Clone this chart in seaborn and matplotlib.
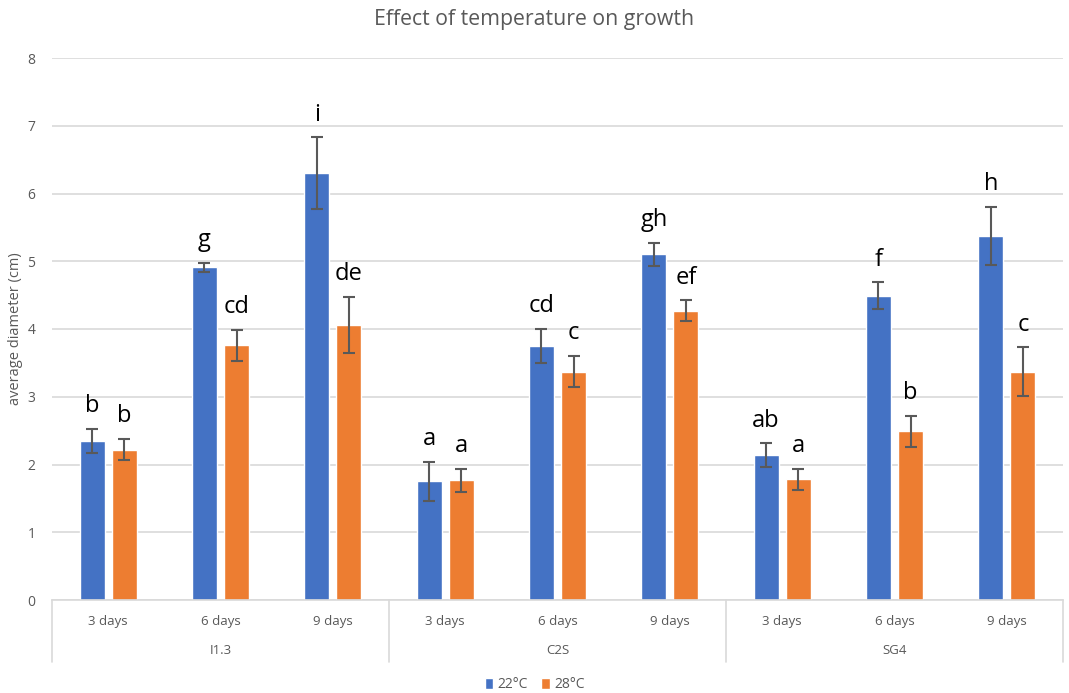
import matplotlib
matplotlib.use("Agg")
import matplotlib.pyplot as plt
from matplotlib.patches import Patch
from matplotlib.lines import Line2D
import matplotlib.transforms as mtransforms
import seaborn as sns
import pandas as pd

# ---- data ----
strains = ["I1.3", "C2S", "SG4"]
days = ["3 days", "6 days", "9 days"]
temps = ["22°C", "28°C"]

mean_22 = [2.35, 4.91, 6.30, 1.75, 3.75, 5.10, 2.14, 4.49, 5.37]
err_22 = [0.18, 0.07, 0.53, 0.29, 0.25, 0.17, 0.17, 0.20, 0.43]
letters_22 = ["b", "g", "i", "a", "cd", "gh", "ab", "f", "h"]

mean_28 = [2.22, 3.76, 4.06, 1.77, 3.37, 4.27, 1.78, 2.49, 3.37]
err_28 = [0.16, 0.23, 0.41, 0.17, 0.23, 0.155, 0.16, 0.23, 0.36]
letters_28 = ["b", "cd", "de", "a", "c", "ef", "a", "b", "c"]

colors = ["#4472C4", "#ED7D31"]
text_gray = "#595959"
grid_gray = "#D9D9D9"

# ---- long-form table ----
cats = [f"{s}|{d}" for s in strains for d in days]
rows = []
for t, means in zip(temps, [mean_22, mean_28]):
    for c, m in zip(cats, means):
        rows.append({"cat": c, "temp": t, "mean": m})
df = pd.DataFrame(rows)

sns.set_theme(style="white")
plt.rcParams["font.family"] = ["Open Sans", "DejaVu Sans"]

fig = plt.figure(figsize=(10.69, 6.93), dpi=100)
ax = fig.add_axes([52 / 1069, 1 - 600 / 693, (1063 - 52) / 1069, (600 - 58) / 693])

sns.barplot(data=df, x="cat", y="mean", hue="temp", order=cats, hue_order=temps,
            palette=colors, width=0.57, gap=0.22, errorbar=None, legend=False,
            saturation=1, ax=ax)

# error bars and significance letters on each bar
bars = [p for p in ax.patches if p.get_height() > 0]
bars.sort(key=lambda p: p.get_x())
for i, c in enumerate(cats):
    pair = bars[2 * i:2 * i + 2]
    for p, m, e, lab in zip(pair, [mean_22[i], mean_28[i]], [err_22[i], err_28[i]],
                            [letters_22[i], letters_28[i]]):
        xc = p.get_x() + p.get_width() / 2
        ax.errorbar(xc, m, yerr=e, fmt="none", ecolor="#595959", elinewidth=1.5,
                    capsize=4, capthick=1.5, zorder=5)
        ax.annotate(lab, (xc, m + e), xytext=(0, 12), textcoords="offset points",
                    ha="center", va="baseline", fontsize=17, color="black")

ax.set_ylim(0, 8)
ax.set_xlim(-0.5, len(cats) - 0.5)
ax.set_yticks(range(0, 9))
ax.tick_params(axis="y", length=0, pad=12, labelsize=10, labelcolor=text_gray)
ax.yaxis.grid(True, color=grid_gray, linewidth=1.2)
ax.set_axisbelow(True)
for s in ["top", "right", "left"]:
    ax.spines[s].set_visible(False)
ax.spines["bottom"].set_color(grid_gray)
ax.spines["bottom"].set_linewidth(1.2)

ax.set_xticks(range(len(cats)))
ax.set_xticklabels([c.split("|")[1] for c in cats])
ax.tick_params(axis="x", length=0, pad=11, labelsize=9.5, labelcolor=text_gray)
ax.set_xlabel("")
ax.set_ylabel("average diameter (cm)", fontsize=10.5, color=text_gray)
ax.yaxis.set_label_coords(-0.029, 0.5)

# strain group labels and separators beneath the day labels
trans = mtransforms.blended_transform_factory(ax.transData, ax.transAxes)
depth = (662 - 600) / (600 - 58)
label_y = -(651 - 600) / (600 - 58)
for g, s in enumerate(strains):
    ax.text(3 * g + 1, label_y, s, transform=trans, ha="center", va="center",
            fontsize=9.5, color=text_gray)
for xb in [-0.5, 2.5, 5.5, 8.5]:
    ax.add_line(Line2D([xb, xb], [0, -depth], transform=trans, color=grid_gray,
                       linewidth=1.2, clip_on=False))

fig.text(0.5, 1 - 20 / 693, "Effect of temperature on growth", ha="center", va="center",
         fontsize=15.3, color=text_gray)

handles = [Patch(facecolor=c, label=t) for c, t in zip(colors, temps)]
leg = fig.legend(handles=handles, loc="center", bbox_to_anchor=(0.5, 1 - 685 / 693),
                 ncol=2, frameon=False, handlelength=0.6, handleheight=0.9,
                 handletextpad=0.3, columnspacing=1.0, fontsize=10)
for t in leg.get_texts():
    t.set_color(text_gray)

fig.savefig("out.png", dpi=100)
